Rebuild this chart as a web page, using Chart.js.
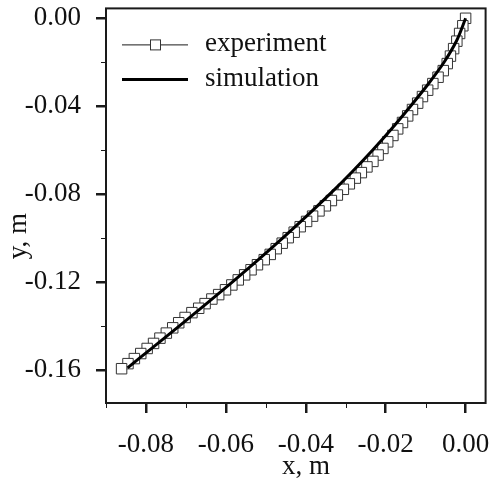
<!DOCTYPE html>
<html>
<head>
<meta charset="utf-8">
<script src="https://cdn.jsdelivr.net/npm/chart.js@4/dist/chart.umd.min.js"></script>
<style>
  html, body { margin: 0; padding: 0; background: #fff; }
  #wrap { width: 494px; height: 491px; }
</style>
</head>
<body>
<div id="wrap"><canvas id="myChart" width="494" height="491"></canvas></div>
<script>
// experiment, from the tip (0,0) down to the lower left
var expX = [0.0000, -0.0007, -0.0015, -0.0022, -0.0030, -0.0038, -0.0046, -0.0056, -0.0069, -0.0082,
            -0.0095, -0.0108, -0.0120, -0.0133, -0.0145, -0.0158, -0.0170, -0.0182, -0.0195, -0.0207,
            -0.0219, -0.0232, -0.0247, -0.0261, -0.0276, -0.0291, -0.0306, -0.0321, -0.0336, -0.0351,
            -0.0367, -0.0383, -0.0398, -0.0414, -0.0429, -0.0444, -0.0459, -0.0474, -0.0489, -0.0504,
            -0.0521, -0.0537, -0.0553, -0.0569, -0.0585, -0.0601, -0.0618, -0.0635, -0.0652, -0.0668,
            -0.0685, -0.0702, -0.0718, -0.0733, -0.0749, -0.0765, -0.0781, -0.0797, -0.0813, -0.0829,
            -0.0845, -0.0861];
var expY = [0.0000, -0.0034, -0.0069, -0.0104, -0.0138, -0.0172, -0.0206, -0.0238, -0.0268, -0.0297,
            -0.0327, -0.0356, -0.0386, -0.0415, -0.0444, -0.0474, -0.0503, -0.0533, -0.0562, -0.0592,
            -0.0622, -0.0651, -0.0676, -0.0702, -0.0727, -0.0753, -0.0778, -0.0804, -0.0829, -0.0853,
            -0.0876, -0.0900, -0.0924, -0.0948, -0.0973, -0.0998, -0.1023, -0.1048, -0.1074, -0.1098,
            -0.1121, -0.1144, -0.1167, -0.1190, -0.1213, -0.1235, -0.1257, -0.1277, -0.1298, -0.1319,
            -0.1339, -0.1361, -0.1385, -0.1408, -0.1432, -0.1455, -0.1479, -0.1502, -0.1525, -0.1548,
            -0.1571, -0.1594];

// simulation curve
var simX = [0, -0.0022, -0.0054, -0.0094, -0.0138, -0.0184, -0.0233, -0.0285, -0.0340,
            -0.0398, -0.0458, -0.0520, -0.0584, -0.0650, -0.0717, -0.0785, -0.0846];
var simY = [0, -0.0100, -0.0200, -0.0300, -0.0400, -0.0500, -0.0600, -0.0700, -0.0800,
            -0.0900, -0.1000, -0.1100, -0.1200, -0.1300, -0.1400, -0.1500, -0.1590];

var xMajorTicks = [-0.08, -0.06, -0.04, -0.02, 0.00];
var xTickLabels = ['-0.08', '-0.06', '-0.04', '-0.02', '0.00'];
var xMinorTicks = [-0.09, -0.07, -0.05, -0.03, -0.01];
var yMajorTicks = [-0.16, -0.12, -0.08, -0.04, 0.00];
var yTickLabels = ['-0.16', '-0.12', '-0.08', '-0.04', '0.00'];
var yMinorTicks = [-0.14, -0.10, -0.06, -0.02];

var legendNames = ['experiment', 'simulation'];

var FONT = '"Liberation Serif", "Times New Roman", serif';
var INK = '#1a1a1a';

function toPoints(xs, ys) {
  var pts = [];
  for (var i = 0; i < xs.length; i++) pts.push({x: xs[i], y: ys[i]});
  return pts;
}

// frame, short minor ticks and the little legend in the corner
var framePlugin = {
  id: 'framePlugin',
  afterDraw: function(chart) {
    var ctx = chart.ctx, a = chart.chartArea;
    var sx = chart.scales.x, sy = chart.scales.y;
    ctx.save();
    ctx.strokeStyle = INK;
    ctx.lineWidth = 1;
    xMinorTicks.forEach(function(v) {
      var p = Math.round(sx.getPixelForValue(v)) + 0.5;
      ctx.beginPath(); ctx.moveTo(p, a.bottom); ctx.lineTo(p, a.bottom + 5); ctx.stroke();
    });
    yMinorTicks.forEach(function(v) {
      var p = Math.round(sy.getPixelForValue(v)) + 0.5;
      ctx.beginPath(); ctx.moveTo(a.left, p); ctx.lineTo(a.left - 5, p); ctx.stroke();
    });
    ctx.lineWidth = 2;
    ctx.strokeRect(a.left, a.top, a.right - a.left, a.bottom - a.top);

    // legend
    var x0 = a.left + 16, x1 = a.left + 82, tx = a.left + 99;
    var y0 = a.top + 36, y1 = a.top + 71;
    ctx.lineWidth = 1;
    ctx.strokeStyle = INK;
    ctx.beginPath(); ctx.moveTo(x0, y0 + 0.5); ctx.lineTo(x1, y0 + 0.5); ctx.stroke();
    ctx.fillStyle = '#fff';
    ctx.strokeStyle = '#333';
    ctx.fillRect(a.left + 44, y0 - 5, 11, 11);
    ctx.strokeRect(a.left + 44.5, y0 - 4.5, 10, 10);
    ctx.lineWidth = 3;
    ctx.strokeStyle = '#000';
    ctx.beginPath(); ctx.moveTo(x0, y1); ctx.lineTo(x1, y1); ctx.stroke();
    ctx.fillStyle = '#111';
    ctx.font = '27px ' + FONT;
    ctx.textBaseline = 'alphabetic';
    ctx.textAlign = 'left';
    ctx.fillText(legendNames[0], tx, y0 + 6.5);
    ctx.fillText(legendNames[1], tx, y1 + 6.5);
    ctx.restore();
  }
};

function noLabelPadding(s) {
  s.paddingLeft = 0; s.paddingRight = 0; s.paddingTop = 0; s.paddingBottom = 0;
}

function drawChart() {
  var ctx = document.getElementById('myChart').getContext('2d');
  var chart = new Chart(ctx, {
    type: 'line',
    data: {
      datasets: [{
        label: legendNames[1],
        data: toPoints(simX, simY),
        borderColor: '#000',
        borderWidth: 3,
        pointRadius: 0,
        tension: 0.3,
        fill: false,
        order: 0
      }, {
        label: legendNames[0],
        data: toPoints(expX, expY),
        borderColor: '#444',
        borderWidth: 1,
        pointStyle: 'rect',
        pointRadius: 7.4,
        pointBackgroundColor: '#fff',
        pointBorderColor: '#333',
        pointBorderWidth: 1,
        tension: 0,
        fill: false,
        order: 1
      }]
    },
    options: {
      responsive: false,
      animation: false,
      events: [],
      layout: { padding: { top: 6, right: 7, left: 0, bottom: 0 } },
      plugins: { legend: { display: false }, tooltip: { enabled: false } },
      scales: {
        x: {
          type: 'linear',
          min: -0.09,
          max: 0.005,
          afterFit: function(s) { s.height = 88; noLabelPadding(s); },
          afterBuildTicks: function(s) { s.ticks = xMajorTicks.map(function(v) { return {value: v}; }); },
          grid: { drawOnChartArea: false, drawTicks: true, tickLength: 10, lineWidth: 2.5, color: INK },
          border: { display: false },
          ticks: {
            padding: 16,
            color: '#111',
            maxRotation: 0,
            autoSkip: false,
            font: { family: FONT, size: 27 },
            callback: function(v, i) { return xTickLabels[i]; }
          },
          title: {
            display: true,
            text: '   x, m',
            color: '#111',
            font: { family: FONT, size: 27, lineHeight: 1.2 },
            padding: { top: 0, bottom: 8 }
          }
        },
        y: {
          type: 'linear',
          min: -0.175,
          max: 0.0045,
          afterFit: function(s) { s.width = 106; noLabelPadding(s); },
          afterBuildTicks: function(s) { s.ticks = yMajorTicks.map(function(v) { return {value: v}; }); },
          grid: { drawOnChartArea: false, drawTicks: true, tickLength: 10, lineWidth: 2.5, color: INK },
          border: { display: false },
          ticks: {
            padding: 15,
            color: '#111',
            autoSkip: false,
            font: { family: FONT, size: 27 },
            callback: function(v, i) { return yTickLabels[i]; }
          },
          title: {
            display: true,
            text: 'y, m         ',
            color: '#111',
            font: { family: FONT, size: 27, lineHeight: 1.2 },
            padding: { top: 3, bottom: 0 }
          }
        }
      }
    },
    plugins: [framePlugin]
  });
}

drawChart();
</script>
</body>
</html>
